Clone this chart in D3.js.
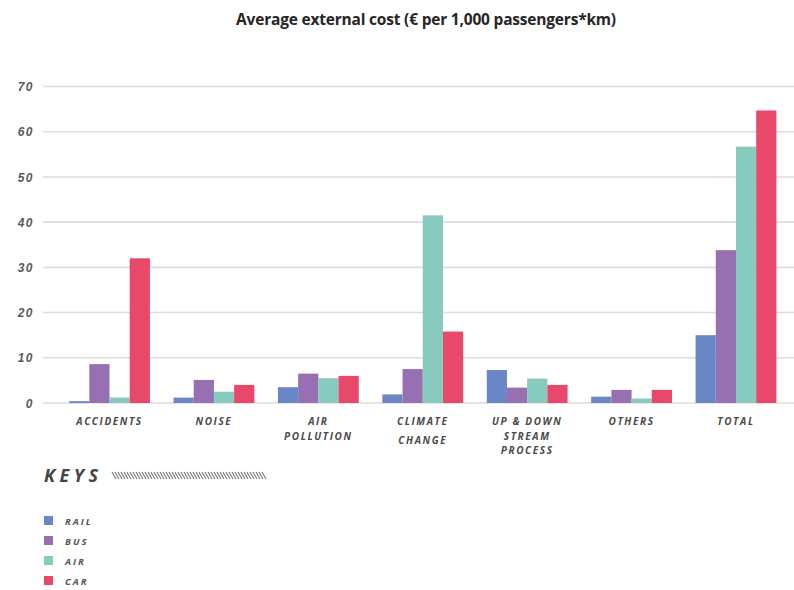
<!DOCTYPE html>
<html>
<head>
<meta charset="utf-8">
<script src="https://cdn.jsdelivr.net/npm/d3@7"></script>
<style>
  body { margin: 0; background: #fff; }
  svg { font-family: 'Open Sans', sans-serif; }
</style>
</head>
<body>
<svg width="794" height="590"></svg>
<script>
// categories (each label split into lines as printed)
const categories = ['ACCIDENTS', 'NOISE', 'AIR POLLUTION', 'CLIMATE CHANGE', 'UP & DOWN STREAM PROCESS', 'OTHERS', 'TOTAL'];
const categoryLines = [['ACCIDENTS'], ['NOISE'], ['AIR', 'POLLUTION'], ['CLIMATE', 'CHANGE'], ['UP & DOWN', 'STREAM', 'PROCESS'], ['OTHERS'], ['TOTAL']];
const modes = ['RAIL', 'BUS', 'AIR', 'CAR'];
const modeColors = ['#6a87c5', '#9670b0', '#86cbbd', '#e8486a'];

// values per mode, in category order
const rail = [0.4, 1.2, 3.5, 1.9, 7.3, 1.4, 15.0];
const bus  = [8.6, 5.1, 6.5, 7.5, 3.4, 2.9, 33.8];
const air  = [1.2, 2.5, 5.5, 41.5, 5.4, 1.0, 56.7];
const car  = [32.0, 4.0, 6.0, 15.8, 4.0, 2.9, 64.7];
const seriesValues = [rail, bus, air, car];

const yTicks = [0, 10, 20, 30, 40, 50, 60, 70];

const svg = d3.select('svg');

// scales
const x = d3.scaleBand()
            .domain(categories)
            .range([43, 776 + 26.5])
            .paddingInner(0.226)
            .paddingOuter(0.25);

const xInner = d3.scaleBand()
            .domain(modes)
            .range([0, x.bandwidth()]);

const y = d3.scaleLinear()
            .domain([0, 70])
            .range([403, 86.5]);

// title
svg.append('text')
   .text('Average external cost (€ per 1,000 passengers*km)')
   .attr('x', 426)
   .attr('y', 25)
   .style('text-anchor', 'middle')
   .style('font-weight', 'bold')
   .style('font-size', '15.5px')
   .style('letter-spacing', '-0.2px')
   .style('fill', '#262626');

// gridlines
const yAxis = d3.axisLeft(y)
                .tickValues(yTicks)
                .tickSize(0)
                .tickPadding(0);

const gridG = svg.append('g').attr('class', 'grid');
gridG.selectAll('line')
     .data(yTicks)
     .enter()
     .append('line')
     .attr('x1', 43)
     .attr('x2', 794)
     .attr('y1', d => y(d))
     .attr('y2', d => y(d))
     .style('stroke', '#dcdcdc')
     .style('stroke-width', '1.6px');

const axisG = svg.append('g')
                 .attr('transform', 'translate(34, 0)')
                 .call(yAxis);
axisG.select('.domain').remove();
axisG.selectAll('text')
     .attr('dy', '0.35em')
     .style('font-size', '12px')
     .style('font-style', 'italic')
     .style('font-weight', 'bold')
     .style('letter-spacing', '1.5px')
     .style('fill', '#5a5a5a');

// bars
const groups = svg.selectAll('.barGroup')
                  .data(categories)
                  .enter()
                  .append('g')
                  .classed('barGroup', true)
                  .attr('transform', d => `translate(${x(d)}, 0)`);

groups.selectAll('rect')
      .data((d, i) => modes.map((m, j) => ({ mode: m, value: seriesValues[j][i], color: modeColors[j] })))
      .enter()
      .append('rect')
      .attr('x', d => xInner(d.mode))
      .attr('width', xInner.bandwidth())
      .attr('y', d => y(d.value))
      .attr('height', d => y(0) - y(d.value))
      .style('fill', d => d.color);

// category labels
groups.each(function(d, i) {
  const g = d3.select(this);
  const lines = categoryLines[i];
  const lineGap = lines.length === 2 && i === 3 ? 19 : 14.5;
  lines.forEach((ln, k) => {
    g.append('text')
     .text(ln)
     .attr('x', x.bandwidth() / 2)
     .attr('y', 425 + k * lineGap)
     .style('text-anchor', 'middle')
     .style('font-size', '10px')
     .style('font-style', 'italic')
     .style('font-weight', 'bold')
     .style('letter-spacing', '1.6px')
     .style('fill', '#4a4a4a');
  });
});

// keys heading
svg.append('text')
   .text('KEYS')
   .attr('x', 44)
   .attr('y', 482)
   .style('font-size', '18px')
   .style('font-style', 'italic')
   .style('font-weight', 'bold')
   .style('letter-spacing', '4.5px')
   .style('fill', '#444');

// hatched stripe next to the heading
const hatch = svg.append('g').attr('class', 'hatch');
hatch.selectAll('line')
     .data(d3.range(0, 152, 3))
     .enter()
     .append('line')
     .attr('x1', d => 112 + d)
     .attr('x2', d => 116 + d)
     .attr('y1', 472)
     .attr('y2', 479)
     .style('stroke', '#777')
     .style('stroke-width', '1.1px');

// legend
const legendG = svg.append('g')
                   .attr('transform', 'translate(44, 516)');

const keyRows = legendG.selectAll('g')
                       .data(modes)
                       .enter()
                       .append('g')
                       .attr('transform', (d, i) => `translate(0, ${i * 20})`);

keyRows.append('rect')
       .attr('width', 9)
       .attr('height', 9)
       .style('fill', (d, i) => modeColors[i]);

keyRows.append('text')
       .text(d => d)
       .attr('x', 21)
       .attr('y', 8.5)
       .style('font-size', '9.5px')
       .style('font-style', 'italic')
       .style('font-weight', 'bold')
       .style('letter-spacing', '2px')
       .style('fill', '#555');
</script>
</body>
</html>
